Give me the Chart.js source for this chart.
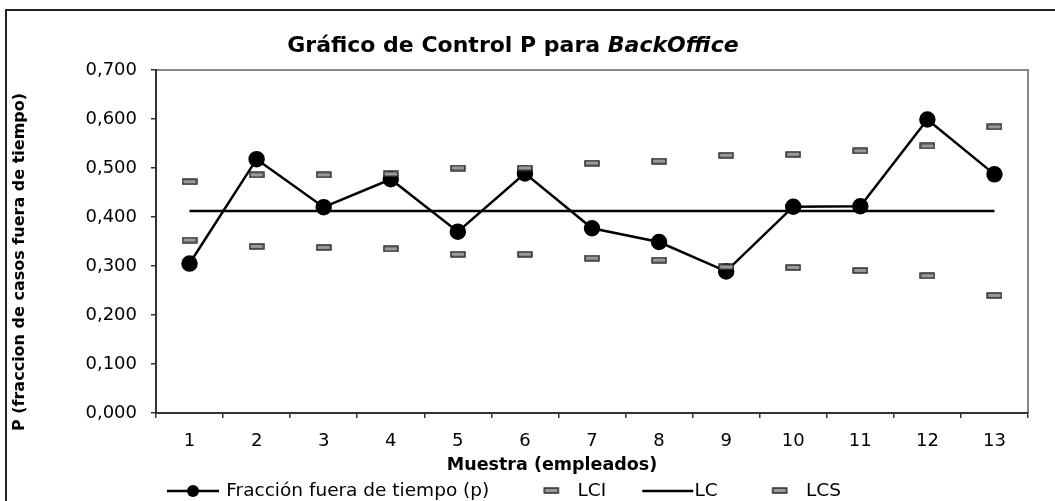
<!DOCTYPE html>
<html><head><meta charset="utf-8">
<script src="https://cdn.jsdelivr.net/npm/chart.js@4.4.1/dist/chart.umd.min.js"></script>
<style>html,body{margin:0;padding:0;background:#fff}#wrap{width:1055px;height:501px;position:relative}</style>
</head><body><div id="wrap"><canvas id="c" width="1055" height="501"></canvas></div>
<script>
// ---- data ----
const categories = ['1','2','3','4','5','6','7','8','9','10','11','12','13'];
const fraccion = [0.305,0.518,0.420,0.477,0.370,0.489,0.377,0.349,0.289,0.421,0.422,0.599,0.487];
const lci = [0.353,0.340,0.338,0.335,0.324,0.324,0.316,0.312,0.298,0.297,0.291,0.280,0.240];
const lc  = [0.412,0.412,0.412,0.412,0.412,0.412,0.412,0.412,0.412,0.412,0.412,0.412,0.412];
const lcs = [0.472,0.486,0.486,0.488,0.500,0.500,0.510,0.514,0.526,0.528,0.535,0.545,0.584];
const seriesNames = ['Fracción fuera de tiempo (p)','LCI','LC','LCS'];
const titleMain = 'Gráfico de Control P para ';
const titleItalic = 'BackOffice';
const xTitle = 'Muestra (empleados)';
const yTitle = 'P (fraccion de casos fuera de tiempo)';

const FONT = "'DejaVu Sans', sans-serif";
const LEGEND_PAD = 29, LEGEND_FONT = 18.5, BOX_W = 50;
const ICON_W = 68; // covers box plus the gap up to the legend text

function makeDash(){
  const c=document.createElement('canvas'); c.width=16; c.height=7;
  const g=c.getContext('2d');
  g.fillStyle='#9a9a9a'; g.fillRect(1,1,14,5);
  g.strokeStyle='#222'; g.lineWidth=1.4; g.strokeRect(1,1,14,5);
  return c;
}
function makeLegendIcon(kind){
  const c=document.createElement('canvas'); c.width=ICON_W; c.height=16;
  const g=c.getContext('2d');
  if(kind==='dash'){
    g.drawImage(makeDash(), 42-8, 4);
  } else {
    const x1 = kind==='dot' ? 9 : 16, x2 = kind==='dot' ? 61 : 67;
    g.strokeStyle='#000'; g.lineWidth=2.5;
    g.beginPath(); g.moveTo(x1,8); g.lineTo(x2,8); g.stroke();
    if(kind==='dot'){ g.fillStyle='#000'; g.beginPath(); g.arc((x1+x2)/2,8,6,0,Math.PI*2); g.fill(); }
  }
  return c;
}
const dash = makeDash();
const legendIcons = [makeLegendIcon('dot'), makeLegendIcon('dash'), makeLegendIcon('line'), makeLegendIcon('dash')];

const framePlugin = {
  id:'frame',
  afterLayout(chart){
    const lg = chart.legend;
    if(lg){
      lg.left = 167 - LEGEND_PAD; lg.right = 1055; lg.width = lg.right - lg.left;
      lg.top = 491 - LEGEND_PAD - LEGEND_FONT/2; lg.bottom = 501; lg.height = lg.bottom - lg.top;
    }
  },
  beforeDraw(chart){
    const ctx=chart.ctx, a=chart.chartArea;
    ctx.save();
    ctx.strokeStyle='#222'; ctx.lineWidth=2;
    ctx.beginPath(); ctx.moveTo(6,501); ctx.lineTo(6,10); ctx.lineTo(1055,10); ctx.stroke();
    ctx.strokeStyle='#888'; ctx.lineWidth=2;
    ctx.beginPath(); ctx.moveTo(a.left,a.top); ctx.lineTo(a.right,a.top); ctx.lineTo(a.right,a.bottom); ctx.stroke();
    // chart title
    ctx.fillStyle='#000'; ctx.textBaseline='middle';
    ctx.font = "bold 22px " + FONT;
    const w1 = ctx.measureText(titleMain).width;
    ctx.font = "italic bold 22px " + FONT;
    const w2 = ctx.measureText(titleItalic).width;
    const x0 = 513 - (w1+w2)/2;
    ctx.font = "bold 22px " + FONT; ctx.textAlign='left';
    ctx.fillText(titleMain, x0, 46);
    ctx.font = "italic bold 22px " + FONT;
    ctx.fillText(titleItalic, x0 + w1, 46);
    // x axis title
    ctx.font = "bold 17.5px " + FONT; ctx.textAlign='center'; ctx.textBaseline='middle';
    ctx.fillText(xTitle, 552, 465);
    // y axis title
    ctx.save();
    ctx.translate(20, 262); ctx.rotate(-Math.PI/2);
    ctx.font = "bold 16px " + FONT; ctx.textAlign='center'; ctx.textBaseline='middle';
    ctx.fillText(yTitle, 0, 0);
    ctx.restore();
    ctx.restore();
  }
};

new Chart(document.getElementById('c'), {
  type:'line',
  data:{
    labels: categories,
    datasets:[
      {label:seriesNames[0], data:fraccion, borderColor:'#000', backgroundColor:'#000', borderWidth:2.5,
       pointRadius:7, pointBackgroundColor:'#000', pointBorderColor:'#000', tension:0, order:4},
      {label:seriesNames[1], data:lci, showLine:false, pointStyle:dash, pointRadius:7, order:3},
      {label:seriesNames[2], data:lc, borderColor:'#000', borderWidth:2.5, pointRadius:0, tension:0, order:2},
      {label:seriesNames[3], data:lcs, showLine:false, pointStyle:dash, pointRadius:7, order:1}
    ]
  },
  options:{
    responsive:false, animation:false, devicePixelRatio:1,
    layout:{padding:{left:6, right:27, top:70, bottom:0}},
    plugins:{
      tooltip:{enabled:false},
      title:{display:false},
      legend:{
        display:true, position:'bottom', align:'start', maxHeight:18,
        labels:{
          usePointStyle:true, pointStyleWidth:BOX_W, padding:LEGEND_PAD, color:'#000',
          font:{family:FONT, size:LEGEND_FONT},
          generateLabels:(chart)=>chart.data.datasets.map((ds,i)=>({
            text:ds.label, pointStyle:legendIcons[i], fillStyle:'#000', strokeStyle:'#000',
            lineWidth:0, hidden:false, datasetIndex:i, fontColor:'#000'
          }))
        }
      }
    },
    scales:{
      x:{
        type:'category', offset:true,
        grid:{offset:true, drawOnChartArea:false, drawTicks:true, tickLength:5, color:'#333', lineWidth:1.5},
        border:{display:true, color:'#333', width:2},
        ticks:{color:'#000', font:{family:FONT, size:18}, padding:13, maxRotation:0, autoSkip:false},
        title:{display:false},
        afterFit(s){ s.height = 70; }
      },
      y:{
        min:0, max:0.7,
        grid:{drawOnChartArea:false, drawTicks:true, tickLength:5, color:'#333', lineWidth:1.5},
        border:{display:true, color:'#333', width:2},
        ticks:{stepSize:0.1, color:'#000', font:{family:FONT, size:18}, padding:14,
          callback:(v)=>v.toFixed(3).replace('.',',')},
        title:{display:false},
        afterFit(s){ s.width = 150; }
      }
    }
  },
  plugins:[framePlugin]
});
</script></body></html>
